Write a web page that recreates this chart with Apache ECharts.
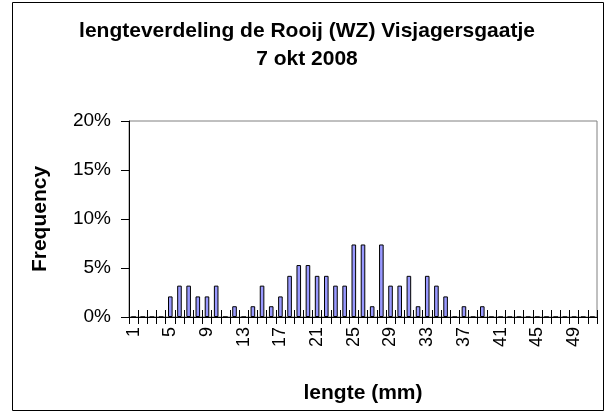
<!DOCTYPE html>
<html>
<head>
<meta charset="utf-8">
<script src="https://cdn.jsdelivr.net/npm/echarts@6/dist/echarts.min.js"></script>
<style>
  html, body { margin: 0; padding: 0; background: #fff; }
  #chart { width: 614px; height: 414px; }
</style>
</head>
<body>
<div id="chart"></div>
<script>
// lengteklassen (mm)
const lengths = ['1', '2', '3', '4', '5', '6', '7', '8', '9', '10',
  '11', '12', '13', '14', '15', '16', '17', '18', '19', '20',
  '21', '22', '23', '24', '25', '26', '27', '28', '29', '30',
  '31', '32', '33', '34', '35', '36', '37', '38', '39', '40',
  '41', '42', '43', '44', '45', '46', '47', '48', '49', '50', '51'];

// frequentie in %
const frequency = [0, 0, 0, 0, 2.1, 3.2, 3.2, 2.1, 2.1, 3.2,
  0, 1.1, 0, 1.1, 3.2, 1.1, 2.1, 4.2, 5.3, 5.3,
  4.2, 4.2, 3.2, 3.2, 7.4, 7.4, 1.1, 7.4, 3.2, 3.2,
  4.2, 1.1, 4.2, 3.2, 2.1, 0, 1.1, 0, 1.1, 0,
  0, 0, 0, 0, 0, 0, 0, 0, 0, 0, 0];

const font = '"Liberation Sans", Arial, sans-serif';

let myChart = echarts.init(document.getElementById('chart'));
let option = {
    animation: false,
    textStyle: { fontFamily: font },
    title: {
        text: 'lengteverdeling de Rooij (WZ) Visjagersgaatje\n7 okt 2008',
        left: 'center',
        top: 12,
        textStyle: {
            fontFamily: font,
            fontSize: 21,
            fontWeight: 'bold',
            color: '#000',
            lineHeight: 28
        }
    },
    graphic: [{
        type: 'rect',
        shape: { x: 12.5, y: 2.5, width: 591, height: 408 },
        style: { fill: 'none', stroke: '#000', lineWidth: 1 },
        silent: true
    }],
    grid: {
        left: 129,
        right: 17,
        top: 121,
        bottom: 97,
        show: true,
        borderColor: '#808080',
        borderWidth: 1
    },
    xAxis: [{
        type: 'category',
        data: lengths,
        name: 'lengte (mm)',
        nameLocation: 'middle',
        nameGap: 66,
        nameTextStyle: { fontFamily: font, fontSize: 21, fontWeight: 'bold', color: '#000' },
        axisLine: { lineStyle: { color: '#000', width: 1 } },
        axisTick: { show: true, interval: 0, length: 7, lineStyle: { color: '#000' } },
        axisLabel: {
            interval: 3,
            rotate: 90,
            margin: 10,
            fontFamily: font,
            fontSize: 18,
            color: '#000'
        },
        splitLine: { show: false }
    }, {
        type: 'category',
        data: lengths,
        position: 'bottom',
        axisLine: { show: false },
        axisTick: { show: true, inside: true, interval: 0, length: 7, lineStyle: { color: '#000' } },
        axisLabel: { show: false },
        splitLine: { show: false }
    }],
    yAxis: {
        type: 'value',
        min: 0,
        max: 20,
        interval: 5,
        name: 'Frequency',
        nameLocation: 'middle',
        nameGap: 78,
        nameTextStyle: { fontFamily: font, fontSize: 21, fontWeight: 'bold', color: '#000' },
        axisLine: { show: true, lineStyle: { color: '#000', width: 1 } },
        axisTick: { show: true, length: 8, lineStyle: { color: '#000' } },
        axisLabel: {
            formatter: '{value}%',
            margin: 18,
            fontFamily: font,
            fontSize: 19,
            color: '#000'
        },
        splitLine: { show: false }
    },
    series: [{
        type: 'bar',
        data: frequency,
        barWidth: '50%',
        itemStyle: {
            color: '#9999ff',
            borderColor: '#000',
            borderWidth: 1
        }
    }]
};
myChart.setOption(option, true);
</script>
</body>
</html>
